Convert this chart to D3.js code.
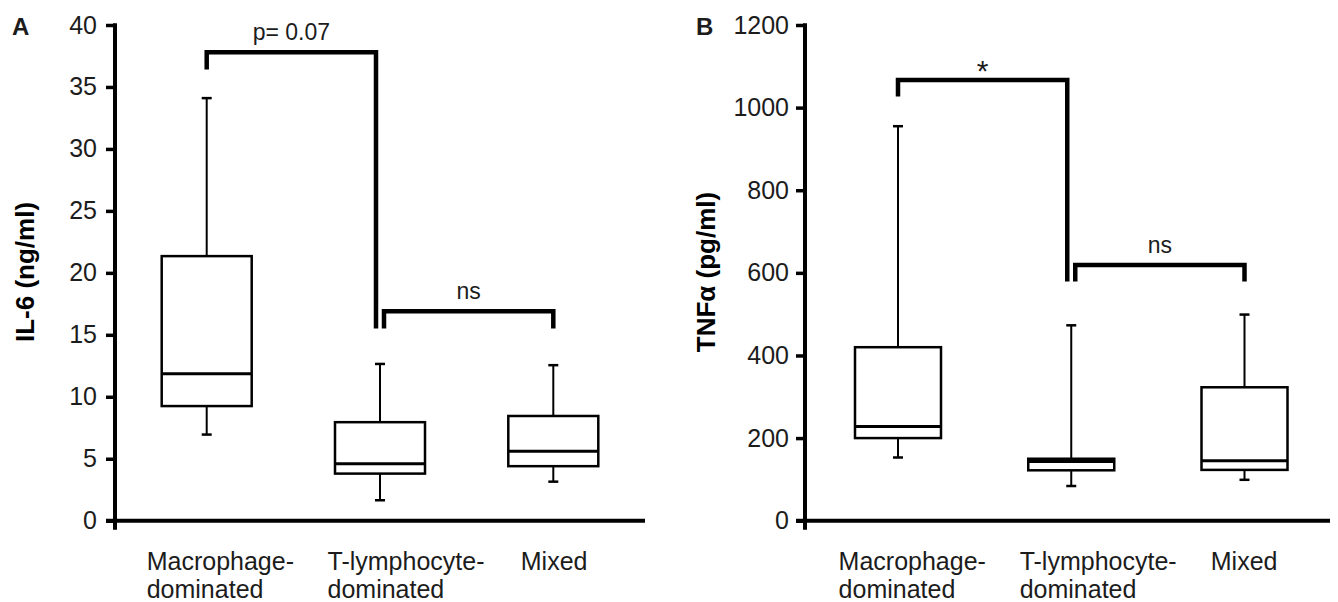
<!DOCTYPE html>
<html>
<head>
<meta charset="utf-8">
<script src="https://cdn.jsdelivr.net/npm/d3@7"></script>
<style>
  html, body { margin: 0; padding: 0; background: #fff; }
  svg { display: block; font-family: "Liberation Sans", Arial, sans-serif; }
</style>
</head>
<body>
<svg id="chart" width="1338" height="602"></svg>
<script>
// ---------- DATA ----------
const categories = ["Macrophage-dominated", "T-lymphocyte-dominated", "Mixed"];
const categoryLines = [["Macrophage-", "dominated"], ["T-lymphocyte-", "dominated"], ["Mixed"]];

// Panel A: IL-6 (ng/ml)
const il6Min    = [6.95, 1.65, 3.15];
const il6Q1     = [9.25, 3.8, 4.4];
const il6Median = [11.85, 4.6, 5.6];
const il6Q3     = [21.35, 7.95, 8.45];
const il6Max    = [34.1, 12.65, 12.55];
const il6Ticks  = [0, 5, 10, 15, 20, 25, 30, 35, 40];

// Panel B: TNFα (pg/ml)
const tnfMin    = [153, 84, 99];
const tnfQ1     = [200, 122, 123];
const tnfMedian = [228, 143.5, 145];
const tnfQ3     = [420, 150, 323];
const tnfMax    = [955, 473, 499];
const tnfTicks  = [0, 200, 400, 600, 800, 1000, 1200];

// Significance brackets (values in data units)
const il6Brackets = [
  { from: 0, to: 1, top: 37.8, fromEnd: 36.4, toEnd: 15.5, label: "p= 0.07" },
  { from: 1, to: 2, top: 16.9, fromEnd: 15.5, toEnd: 15.5, label: "ns" }
];
const tnfBrackets = [
  { from: 0, to: 1, top: 1067, fromEnd: 1027, toEnd: 579, label: "*" },
  { from: 1, to: 2, top: 619, fromEnd: 579, toEnd: 579, label: "ns" }
];

// ---------- DRAW ----------
const svg = d3.select("#chart");
svg.append("rect").attr("width", 1338).attr("height", 602).attr("fill", "#fff");
const ink = "#1c1c1c";

function drawPanel(cfg) {
  const g = svg.append("g");
  const y = d3.scaleLinear().domain([0, cfg.ticks[cfg.ticks.length - 1]]).range([520.7, 25]);
  const x = d3.scalePoint().domain(categories).range(cfg.xRange);

  // y axis
  const axis = d3.axisLeft(y).tickValues(cfg.ticks).tickFormat(d3.format("d"))
    .tickSize(9).tickSizeOuter(0).tickPadding(cfg.tickPad);
  const ag = g.append("g").attr("transform", `translate(${cfg.axisX},0)`).call(axis);
  ag.select(".domain").remove();
  ag.selectAll(".tick line").attr("stroke", "#000").attr("stroke-width", 3.5);
  ag.selectAll(".tick text").attr("fill", ink).attr("font-size", 25)
    .attr("font-family", "'Liberation Sans', Arial, sans-serif");
  g.append("line")
    .attr("x1", cfg.axisX).attr("x2", cfg.axisX)
    .attr("y1", y.range()[1] - 1.75).attr("y2", y(0) + 9)
    .attr("stroke", "#000").attr("stroke-width", 4);
  // x axis
  g.append("line")
    .attr("x1", cfg.axisX - 9).attr("x2", cfg.xEnd)
    .attr("y1", y(0)).attr("y2", y(0))
    .attr("stroke", "#000").attr("stroke-width", 4);

  // boxes
  const hw = cfg.boxWidth / 2;
  categories.forEach((c, i) => {
    const cx = x(c);
    g.append("line").attr("x1", cx).attr("x2", cx)
      .attr("y1", y(cfg.q3[i])).attr("y2", y(cfg.max[i]))
      .attr("stroke", "#000").attr("stroke-width", 2);
    g.append("line").attr("x1", cx).attr("x2", cx)
      .attr("y1", y(cfg.q1[i])).attr("y2", y(cfg.min[i]))
      .attr("stroke", "#000").attr("stroke-width", 2);
    [cfg.max[i], cfg.min[i]].forEach(v => {
      g.append("line").attr("x1", cx - 5).attr("x2", cx + 5)
        .attr("y1", y(v)).attr("y2", y(v))
        .attr("stroke", "#000").attr("stroke-width", 2.5);
    });
    g.append("rect")
      .attr("x", cx - hw).attr("width", cfg.boxWidth)
      .attr("y", y(cfg.q3[i])).attr("height", y(cfg.q1[i]) - y(cfg.q3[i]))
      .attr("fill", "#fff").attr("stroke", "#000").attr("stroke-width", 2.5);
    g.append("line").attr("x1", cx - hw).attr("x2", cx + hw)
      .attr("y1", y(cfg.median[i])).attr("y2", y(cfg.median[i]))
      .attr("stroke", "#000").attr("stroke-width", 3);

    // category labels
    const t = g.append("text")
      .attr("x", cx + cfg.labelOffsets[i]).attr("y", 570)
      .attr("font-size", 25).attr("fill", ink);
    categoryLines[i].forEach((ln, k) => {
      t.append("tspan").attr("x", cx + cfg.labelOffsets[i]).attr("dy", k === 0 ? 0 : 28).text(ln);
    });
  });

  // brackets
  cfg.brackets.forEach((b, k) => {
    const x1 = x(categories[b.from]) + (k === 1 ? 4 : 0);
    const x2 = x(categories[b.to]) - (k === 0 ? 4 : 0);
    g.append("path")
      .attr("d", `M${x1},${y(b.fromEnd)}V${y(b.top)}H${x2}V${y(b.toEnd)}`)
      .attr("fill", "none").attr("stroke", "#000").attr("stroke-width", 4.5)
      .attr("stroke-linejoin", "miter");
    const star = b.label === "*";
    g.append("text")
      .attr("x", (x1 + x2) / 2).attr("y", y(b.top) - (star ? -1 : 12))
      .attr("text-anchor", "middle")
      .attr("font-size", star ? 30 : 23)
      .attr("fill", ink).text(b.label);
  });

  // panel letter
  g.append("text").attr("x", cfg.letterX).attr("y", 35)
    .attr("font-size", 24).attr("font-weight", "bold").attr("fill", ink).text(cfg.letter);

  // y title
  g.append("text")
    .attr("transform", `translate(${cfg.titleX},272) rotate(-90)`)
    .attr("text-anchor", "middle").attr("dy", "0.35em")
    .attr("font-size", 26).attr("font-weight", "bold").attr("fill", "#000").text(cfg.title);
}

drawPanel({
  ticks: il6Ticks, xRange: [206.7, 553.3], axisX: 115, xEnd: 645, boxWidth: 90, tickPad: 9,
  min: il6Min, q1: il6Q1, median: il6Median, q3: il6Q3, max: il6Max,
  brackets: il6Brackets, labelOffsets: [-60, -52.5, -32.5],
  letter: "A", letterX: 12, title: "IL-6 (ng/ml)", titleX: 25
});
drawPanel({
  ticks: tnfTicks, xRange: [898, 1244.5], axisX: 805, xEnd: 1330, boxWidth: 86, tickPad: 7,
  min: tnfMin, q1: tnfQ1, median: tnfMedian, q3: tnfQ3, max: tnfMax,
  brackets: tnfBrackets, labelOffsets: [-59.4, -51.6, -33.7],
  letter: "B", letterX: 696, title: "TNFα (pg/ml)", titleX: 706
});
</script>
</body>
</html>
